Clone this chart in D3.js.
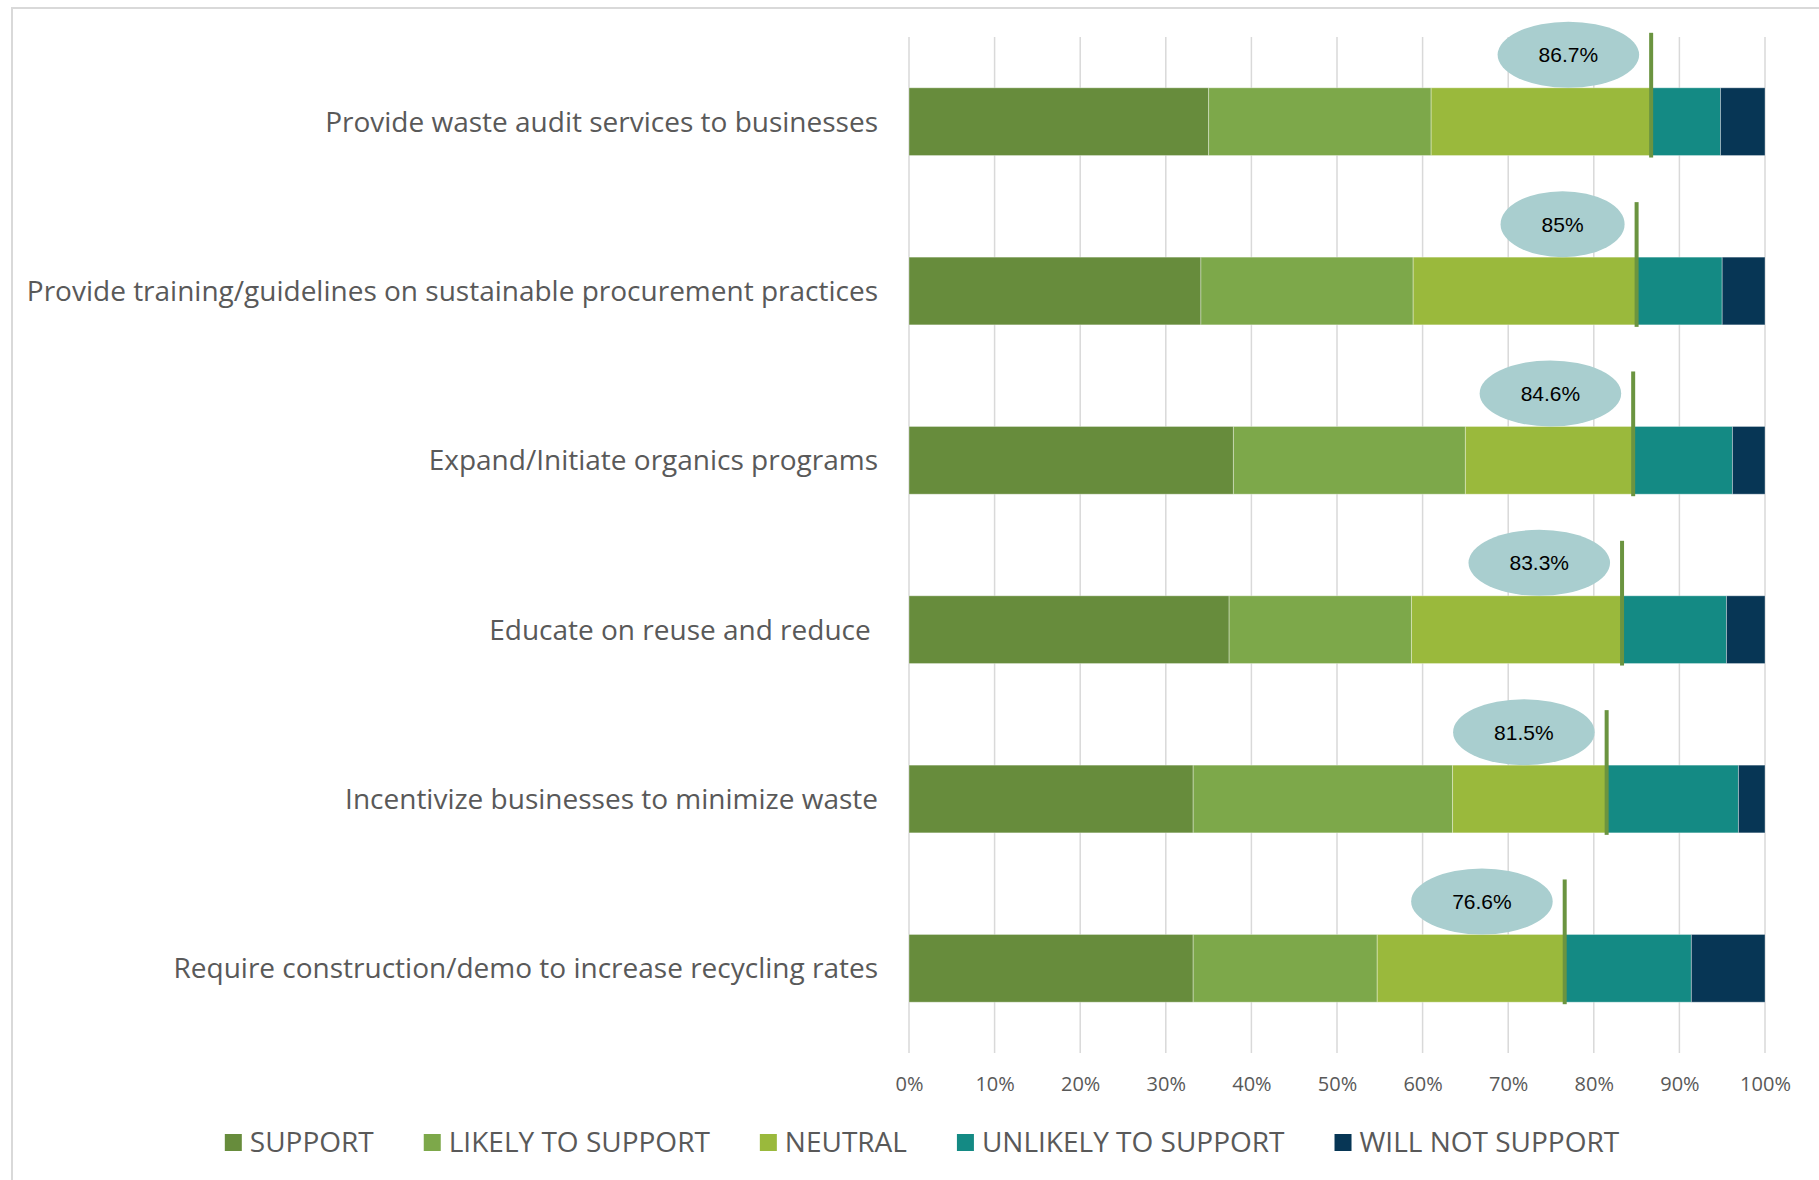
<!DOCTYPE html>
<html>
<head>
<meta charset="utf-8">
<script src="https://cdn.jsdelivr.net/npm/d3@7"></script>
<style>
  html, body { margin: 0; padding: 0; background: #fff; }
  svg { display: block; }
</style>
</head>
<body>
<svg id="chart" width="1819" height="1180"></svg>
<script>
const categories = [
  "Provide waste audit services to businesses",
  "Provide training/guidelines on sustainable procurement practices",
  "Expand/Initiate organics programs",
  "Educate on reuse and reduce ",
  "Incentivize businesses to minimize waste",
  "Require construction/demo to increase recycling rates"
];
const seriesNames = ["SUPPORT", "LIKELY TO SUPPORT", "NEUTRAL", "UNLIKELY TO SUPPORT", "WILL NOT SUPPORT"];
const support  = [35.0, 34.1, 37.9, 37.4, 33.2, 33.2];
const likely   = [26.0, 24.8, 27.1, 21.3, 30.3, 21.5];
const neutral  = [25.7, 26.1, 19.6, 24.6, 18.0, 21.9];
const unlikely = [8.1, 10.0, 11.6, 12.2, 15.4, 14.8];
const willNot  = [5.2, 5.0, 3.8, 4.5, 3.1, 8.6];
const totals   = [86.7, 85, 84.6, 83.3, 81.5, 76.6];
const totalLabels = ["86.7%", "85%", "84.6%", "83.3%", "81.5%", "76.6%"];
const tickValues = [0, 10, 20, 30, 40, 50, 60, 70, 80, 90, 100];

const colors = ["#678C3C", "#7DA84A", "#9AB93C", "#148A84", "#073655"];
const seriesArrays = [support, likely, neutral, unlikely, willNot];

const rows = categories.map((c, i) => {
  const r = { category: c };
  seriesNames.forEach((s, k) => r[s] = seriesArrays[k][i]);
  return r;
});

const svg = d3.select("#chart");

// outer border
svg.append("rect").attr("x", 12).attr("y", 8).attr("width", 1900).attr("height", 1300)
  .attr("fill", "none").attr("stroke", "#D9D9D9").attr("stroke-width", 2);

const x = d3.scaleLinear().domain([0, 100]).range([909, 1765]);
const y = d3.scaleBand().domain(categories).range([37, 1053]).paddingInner(0.6).paddingOuter(0.3);

// gridlines
svg.append("g").selectAll("line").data(tickValues).join("line")
  .attr("x1", d => x(d)).attr("x2", d => x(d))
  .attr("y1", 37).attr("y2", 1053)
  .attr("stroke", "#D9D9D9").attr("stroke-width", 1.5);

// stacked bars
const stack = d3.stack().keys(seriesNames);
const stacked = stack(rows);
svg.append("g").selectAll("g").data(stacked).join("g")
  .attr("fill", (d, i) => colors[i])
  .selectAll("rect").data(d => d).join("rect")
  .attr("x", d => x(d[0]))
  .attr("width", d => x(d[1]) - x(d[0]))
  .attr("y", d => y(d.data.category))
  .attr("height", y.bandwidth())
  .attr("stroke", "rgba(255,255,255,0.35)").attr("stroke-width", 1);

// total markers
const markerG = svg.append("g");
markerG.selectAll("line").data(categories).join("line")
  .attr("x1", (d, i) => x(totals[i])).attr("x2", (d, i) => x(totals[i]))
  .attr("y1", d => y(d) - 55).attr("y2", d => y(d) + y.bandwidth() + 2)
  .attr("stroke", "#6B9440").attr("stroke-width", 4);

// callouts
const calloutG = svg.append("g");
categories.forEach((c, i) => {
  const g = calloutG.append("g");
  const ell = g.append("ellipse").attr("fill", "#A9CECF");
  const t = g.append("text")
    .attr("font-family", "'Liberation Sans', Arial, sans-serif")
    .attr("font-size", 21).attr("fill", "#000")
    .attr("text-anchor", "middle").attr("dominant-baseline", "central")
    .text(totalLabels[i]);
  const tw = t.node().getComputedTextLength();
  const rx = tw / 2 + 41;
  const ry = 33;
  const cx = x(totals[i]) - rx - 12;
  const cy = y(c) - ry;
  ell.attr("cx", cx).attr("cy", cy).attr("rx", rx).attr("ry", ry);
  t.attr("x", cx).attr("y", cy);
});

// category labels
svg.append("g").selectAll("text").data(categories).join("text")
  .attr("x", 878)
  .attr("y", d => y(d) + y.bandwidth() / 2)
  .attr("dy", "0.36em")
  .attr("text-anchor", "end")
  .attr("font-family", "'Open Sans', sans-serif")
  .attr("font-size", 28)
  .attr("fill", "#595959")
  .style("white-space", "pre")
  .text(d => d);

// x axis
const axis = d3.axisBottom(x).tickValues(tickValues).tickSize(0).tickPadding(24)
  .tickFormat(d => d + "%");
const ax = svg.append("g").attr("transform", "translate(0,1053)").call(axis);
ax.select(".domain").remove();
ax.selectAll("text").attr("font-family", "'Open Sans', sans-serif")
  .attr("font-size", 20).attr("fill", "#595959");

// legend
const legend = svg.append("g");
const items = legend.selectAll("g").data(seriesNames).join("g");
items.append("rect").attr("width", 17).attr("height", 17).attr("y", 1134)
  .attr("fill", (d, i) => colors[i]);
items.append("text").attr("x", 25).attr("y", 1152)
  .attr("font-family", "'Open Sans', sans-serif")
  .attr("font-size", 28).attr("fill", "#595959")
  .text(d => d);
const widths = [];
items.each(function () { widths.push(d3.select(this).select("text").node().getComputedTextLength() + 25); });
const gap = 50;
const totalW = d3.sum(widths) + gap * (widths.length - 1);
let cur = 922 - totalW / 2;
items.attr("transform", (d, i) => { const tx = cur; cur += widths[i] + gap; return `translate(${tx},0)`; });
</script>
</body>
</html>
